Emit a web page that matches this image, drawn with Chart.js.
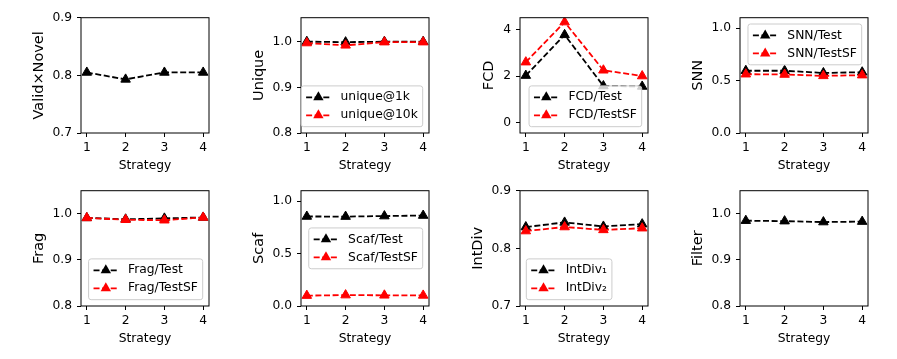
<!DOCTYPE html>
<html>
<head>
<meta charset="utf-8">
<title>Metrics per strategy</title>
<script src="https://cdn.jsdelivr.net/npm/chart.js@4.4.1/dist/chart.umd.min.js"></script>
<style>
  html, body { margin: 0; padding: 0; background: #fff; }
  #fig { position: relative; width: 897px; height: 359px; overflow: hidden; }
  #fig canvas { position: absolute; }
</style>
</head>
<body>
<div id="fig"></div>
<script>
// ---- data ----
const strategies = [1, 2, 3, 4];

const validNovel = [0.805, 0.793, 0.805, 0.805];
const unique1k   = [1.000, 0.999, 1.000, 1.000];
const unique10k  = [0.997, 0.992, 0.999, 0.999];
const fcdTest    = [2.02, 3.78, 1.57, 1.55];
const fcdTestSF  = [2.60, 4.33, 2.25, 2.00];
const snnTest    = [0.594, 0.594, 0.573, 0.580];
const snnTestSF  = [0.561, 0.558, 0.545, 0.552];

const fragTest   = [0.991, 0.988, 0.990, 0.992];
const fragTestSF = [0.991, 0.987, 0.986, 0.992];
const scafTest   = [0.854, 0.853, 0.858, 0.863];
const scafTestSF = [0.099, 0.104, 0.102, 0.101];
const intDiv1    = [0.837, 0.845, 0.838, 0.842];
const intDiv2    = [0.830, 0.837, 0.832, 0.835];
const filterVals = [0.985, 0.984, 0.982, 0.983];

// tick values
const ticksLow   = [0.7, 0.8, 0.9];
const ticksHigh  = [0.8, 0.9, 1.0];
const ticksFCD   = [0, 2, 4];
const ticksUnit  = [0, 0.5, 1.0];

const BLACK = '#000000';
const RED = '#ff0000';

const panels = [
  { yTitle: 'Valid×Novel', yMin: 0.7, yMax: 0.9, yTicks: ticksLow, dec: 1, legend: null,
    series: [['Valid×Novel', validNovel, BLACK]] },
  { yTitle: 'Unique', yMin: 0.8, yMax: 1.0525, yTicks: ticksHigh, dec: 1, legend: 'lower right',
    series: [['unique@1k', unique1k, BLACK], ['unique@10k', unique10k, RED]] },
  { yTitle: 'FCD', yMin: -0.46, yMax: 4.52, yTicks: ticksFCD, dec: 0, legend: 'lower right',
    series: [['FCD/Test', fcdTest, BLACK], ['FCD/TestSF', fcdTestSF, RED]] },
  { yTitle: 'SNN', yMin: 0, yMax: 1.1, yTicks: ticksUnit, dec: 1, legend: 'upper right',
    series: [['SNN/Test', snnTest, BLACK], ['SNN/TestSF', snnTestSF, RED]] },
  { yTitle: 'Frag', yMin: 0.8, yMax: 1.05, yTicks: ticksHigh, dec: 1, legend: 'lower right',
    series: [['Frag/Test', fragTest, BLACK], ['Frag/TestSF', fragTestSF, RED]] },
  { yTitle: 'Scaf', yMin: 0, yMax: 1.1, yTicks: ticksUnit, dec: 1, legend: 'center right',
    series: [['Scaf/Test', scafTest, BLACK], ['Scaf/TestSF', scafTestSF, RED]] },
  { yTitle: 'IntDiv', yMin: 0.7, yMax: 0.9, yTicks: ticksLow, dec: 1, legend: 'lower left',
    series: [['IntDiv₁', intDiv1, BLACK], ['IntDiv₂', intDiv2, RED]] },
  { yTitle: 'Filter', yMin: 0.8, yMax: 1.05, yTicks: ticksHigh, dec: 1, legend: null,
    series: [['Filter', filterVals, BLACK]] }
];

// ---- layout ----
const AREA_LEFT = [81, 301, 520, 740];
const ROW_TOP = [0, 173];
const Y_AXIS_W = 70, X_AXIS_H = 42, CANVAS_W = 218, CANVAS_H = 175;
const FONT = '"DejaVu Sans", sans-serif';
const DASH = [6, 2.6];
const LEGEND_FONT = 12.3;

Chart.defaults.font.family = FONT;
Chart.defaults.color = '#000';

function triangle(ctx, x, y, r, color) {
  ctx.beginPath();
  ctx.moveTo(x, y - r);
  ctx.lineTo(x + r * 0.866, y + r * 0.5);
  ctx.lineTo(x - r * 0.866, y + r * 0.5);
  ctx.closePath();
  ctx.fillStyle = color;
  ctx.fill();
}

function drawLegend(chart, loc) {
  const { ctx, chartArea: a } = chart;
  const items = chart.data.datasets;
  const f = LEGEND_FONT;
  ctx.font = f + 'px ' + FONT;
  const textW = Math.max(...items.map(d => ctx.measureText(d.label).width));
  const pad = 0.4 * f, handle = 2 * f, gap = 0.8 * f, rowH = 18, m = 6.3;
  const w = pad * 2 + handle + gap + textW;
  const h = 22.8 + rowH * (items.length - 1);
  let x = loc.includes('right') ? a.right - m - w : a.left + m;
  let y;
  if (loc.startsWith('upper')) y = a.top + m;
  else if (loc.startsWith('lower')) y = a.bottom - m - h;
  else y = (a.top + a.bottom) / 2 - h / 2;

  ctx.beginPath();
  ctx.roundRect(x, y, w, h, 2.5);
  ctx.fillStyle = 'rgba(255,255,255,0.8)';
  ctx.fill();
  ctx.strokeStyle = '#cccccc';
  ctx.lineWidth = 1;
  ctx.stroke();

  items.forEach((d, i) => {
    const cy = y + 11.4 + i * rowH;
    const hx = x + pad;
    ctx.save();
    ctx.setLineDash(DASH);
    ctx.strokeStyle = d.borderColor;
    ctx.lineWidth = d.borderWidth;
    ctx.beginPath();
    ctx.moveTo(hx, cy);
    ctx.lineTo(hx + handle, cy);
    ctx.stroke();
    ctx.restore();
    triangle(ctx, hx + handle / 2, cy, d.pointRadius + 0.5, d.borderColor);
    ctx.fillStyle = '#000';
    ctx.textAlign = 'left';
    ctx.textBaseline = 'middle';
    ctx.fillText(d.label, hx + handle + gap, cy);
  });
}

const framePlugin = {
  id: 'frameLegend',
  afterLayout(chart) {
    // keep the y title next to its tick labels while the axis box has a fixed width
    const y = chart.scales.y;
    if (y._natW) y.left = y.right - y._natW;
  },
  afterDraw(chart, args, opts) {
    const { ctx, chartArea: a } = chart;
    ctx.save();
    ctx.strokeStyle = '#000';
    ctx.lineWidth = 1;
    ctx.strokeRect(a.left, a.top, a.right - a.left, a.bottom - a.top);
    if (opts.loc) drawLegend(chart, opts.loc);
    ctx.restore();
  }
};

const fig = document.getElementById('fig');

panels.forEach((p, idx) => {
  const canvas = document.createElement('canvas');
  canvas.width = CANVAS_W;
  canvas.height = CANVAS_H;
  canvas.style.left = (AREA_LEFT[idx % 4] - Y_AXIS_W) + 'px';
  canvas.style.top = ROW_TOP[Math.floor(idx / 4)] + 'px';
  fig.appendChild(canvas);

  const datasets = p.series.map(([label, values, color], k) => ({
    label,
    data: values.map((v, i) => ({ x: strategies[i], y: v })),
    borderColor: color,
    backgroundColor: color,
    pointBackgroundColor: color,
    pointBorderColor: color,
    borderWidth: 1.8,
    borderDash: DASH,
    pointStyle: 'triangle',
    pointRadius: 5.5,
    pointBorderWidth: 1,
    tension: 0,
    fill: false,
    order: p.series.length - k
  }));

  new Chart(canvas, {
    type: 'line',
    data: { datasets },
    plugins: [framePlugin],
    options: {
      responsive: false,
      animation: false,
      devicePixelRatio: 1,
      events: [],
      layout: { padding: { left: 0, right: CANVAS_W - Y_AXIS_W - 128, top: 17.7, bottom: 0 } },
      plugins: {
        legend: { display: false },
        tooltip: { enabled: false },
        frameLegend: { loc: p.legend }
      },
      scales: {
        x: {
          type: 'linear',
          min: 0.85,
          max: 4.15,
          afterBuildTicks: s => { s.ticks = strategies.map(v => ({ value: v })); },
          afterFit: s => { s.height = X_AXIS_H; },
          grid: { display: true, drawOnChartArea: false, drawTicks: true, tickLength: 4, color: '#000' },
          border: { display: false },
          ticks: { font: { size: 12.3 }, padding: 3, callback: v => String(v) },
          title: { display: true, text: 'Strategy', font: { size: 12.3 }, padding: { top: 0, bottom: 2 } }
        },
        y: {
          type: 'linear',
          min: p.yMin,
          max: p.yMax,
          afterBuildTicks: s => { s.ticks = p.yTicks.map(v => ({ value: v })); },
          afterFit: s => { s._natW = s.width; s.width = Y_AXIS_W; },
          grid: { display: true, drawOnChartArea: false, drawTicks: true, tickLength: 4, color: '#000' },
          border: { display: false },
          ticks: { font: { size: 12.3 }, padding: 5, callback: v => Number(v).toFixed(p.dec) },
          title: { display: true, text: p.yTitle, font: { size: 14.5 }, padding: { top: 0, bottom: 0 } }
        }
      }
    }
  });
});
</script>
</body>
</html>
